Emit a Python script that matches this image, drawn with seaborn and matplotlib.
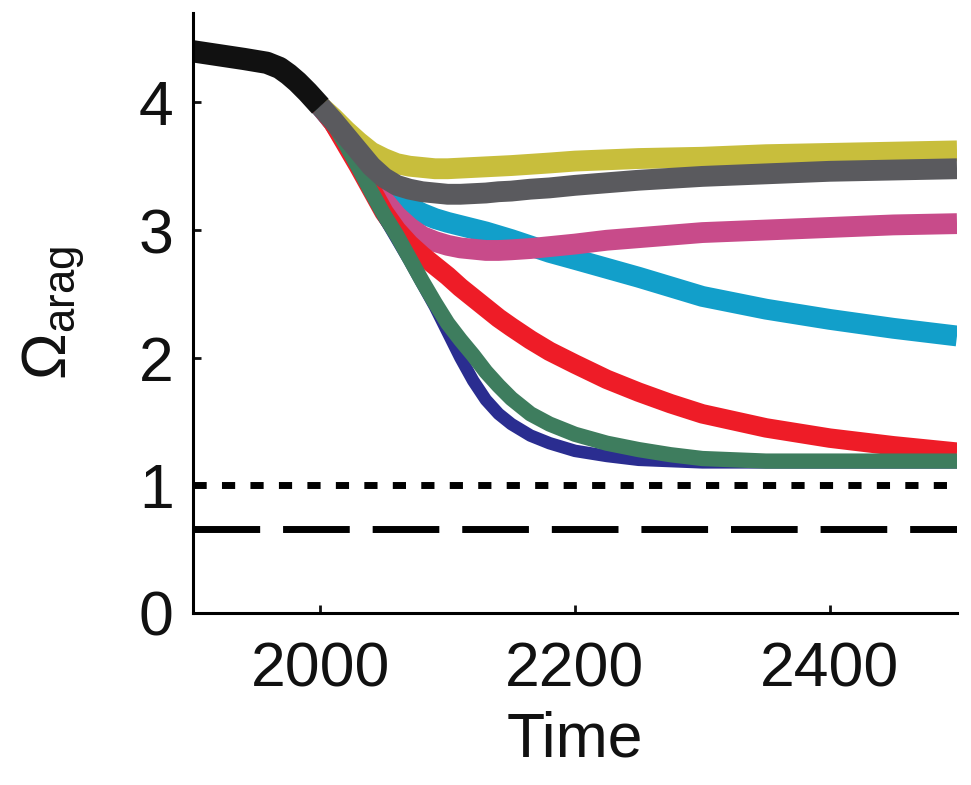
import numpy as np
import pandas as pd
import matplotlib
matplotlib.use("Agg")
import matplotlib.pyplot as plt
import seaborn as sns

# ---------------- data ----------------
years_hist = [1900, 1920, 1940, 1958, 1968, 1975, 1982, 1990, 2000]
omega_hist = [4.40, 4.37, 4.34, 4.31, 4.27, 4.22, 4.16, 4.08, 3.97]

years_future = [2000, 2010, 2020, 2030, 2040, 2050, 2060, 2070, 2080, 2090,
                2100, 2110, 2120, 2130, 2140, 2150, 2165, 2180, 2200, 2225,
                2250, 2275, 2300, 2350, 2400, 2450, 2500]

omega_yellow = [3.97, 3.88, 3.78, 3.69, 3.61, 3.56, 3.52, 3.50, 3.49, 3.48,
                3.48, 3.485, 3.49, 3.495, 3.50, 3.505, 3.515, 3.525, 3.54, 3.55,
                3.56, 3.565, 3.57, 3.59, 3.60, 3.61, 3.62]
omega_grey = [3.97, 3.86, 3.74, 3.62, 3.50, 3.41, 3.35, 3.32, 3.30, 3.29,
              3.28, 3.28, 3.285, 3.29, 3.30, 3.305, 3.32, 3.33, 3.35, 3.37,
              3.39, 3.405, 3.42, 3.44, 3.46, 3.47, 3.48]
omega_cyan = [3.97, 3.85, 3.71, 3.56, 3.43, 3.33, 3.25, 3.18, 3.13, 3.09,
              3.06, 3.035, 3.01, 2.985, 2.955, 2.925, 2.875, 2.825, 2.77, 2.70,
              2.63, 2.555, 2.48, 2.38, 2.30, 2.23, 2.17]
omega_magenta = [3.97, 3.85, 3.70, 3.53, 3.37, 3.23, 3.11, 3.02, 2.95, 2.91,
                 2.88, 2.86, 2.85, 2.84, 2.84, 2.845, 2.855, 2.87, 2.89, 2.92,
                 2.94, 2.96, 2.98, 3.00, 3.02, 3.04, 3.05]
omega_red = [3.97, 3.84, 3.67, 3.50, 3.32, 3.14, 3.00, 2.89, 2.80, 2.72,
             2.64, 2.55, 2.47, 2.39, 2.31, 2.24, 2.14, 2.05, 1.95, 1.83,
             1.73, 1.64, 1.56, 1.45, 1.37, 1.31, 1.26]
omega_green = [3.97, 3.84, 3.67, 3.49, 3.30, 3.12, 2.96, 2.78, 2.60, 2.43,
               2.27, 2.14, 2.02, 1.89, 1.78, 1.68, 1.56, 1.48, 1.40, 1.33,
               1.28, 1.24, 1.21, 1.19, 1.19, 1.19, 1.19]
omega_blue = [3.97, 3.84, 3.67, 3.48, 3.29, 3.10, 2.93, 2.76, 2.58, 2.40,
              2.20, 2.00, 1.82, 1.67, 1.56, 1.48, 1.39, 1.33, 1.27, 1.23,
              1.20, 1.19, 1.18, 1.18, 1.18, 1.18, 1.18]

threshold_years = [1900, 2500]
threshold_dotted = 1.0
threshold_dashed = 0.66

x_ticks = [2000, 2200, 2400]
y_ticks = [0, 1, 2, 3, 4]

# ---------------- style ----------------
sns.set_style("white")
plt.rcParams["font.family"] = ["Liberation Sans", "DejaVu Sans"]
plt.rcParams["mathtext.fontset"] = "custom"
plt.rcParams["mathtext.rm"] = "Liberation Sans"
plt.rcParams["mathtext.it"] = "Liberation Sans:italic"
for key in ["text.color", "axes.labelcolor", "xtick.color", "ytick.color"]:
    plt.rcParams[key] = "#111111"

fig = plt.figure(figsize=(9.71, 7.85), dpi=100)
ax = fig.add_axes([193 / 971, 1 - 613 / 785, (957 - 193) / 971, (613 - 13) / 785])

series = [
    (omega_yellow, "#c8be3c", 15),
    (omega_cyan, "#129fca", 15),
    (omega_magenta, "#c84b8a", 15),
    (omega_red, "#ee1c27", 14),
    (omega_blue, "#2a2d90", 9),
    (omega_green, "#3e7d5e", 11),
    (omega_grey, "#5a5a5e", 15),
]
for vals, col, lw in series:
    sns.lineplot(x=years_future, y=vals, color=col, lw=lw, ax=ax,
                 solid_capstyle="butt", solid_joinstyle="round", sort=False)

sns.lineplot(x=years_hist, y=omega_hist, color="#111111", lw=16, ax=ax,
             solid_capstyle="butt", solid_joinstyle="round", sort=False)

sns.lineplot(x=threshold_years, y=[threshold_dotted] * 2, color="black", lw=5,
             ax=ax)
ax.lines[-1].set_dashes((1.9, 2.2))
ax.lines[-1].set_dash_capstyle("butt")
sns.lineplot(x=threshold_years, y=[threshold_dashed] * 2, color="black", lw=5,
             ax=ax)
ax.lines[-1].set_dashes((9.6, 3.3))
ax.lines[-1].set_dash_capstyle("butt")

ax.set_xlim(1900, 2500)
ax.set_ylim(0, 4.7)
ax.set_xticks(x_ticks)
ax.set_yticks(y_ticks)
ax.set_xticklabels([str(t) for t in x_ticks])
ax.set_yticklabels([str(t) for t in y_ticks])

for side in ["top", "right"]:
    ax.spines[side].set_visible(False)
for side in ["left", "bottom"]:
    ax.spines[side].set_linewidth(2.2)
    ax.spines[side].set_color("black")

ax.tick_params(axis="both", direction="in", length=6, width=2, labelsize=45,
               left=True, bottom=True)
ax.tick_params(axis="x", pad=20)
ax.tick_params(axis="y", pad=14)

ax.set_xlabel("Time", fontsize=45, labelpad=8)
ax.set_ylabel(r"$\Omega_{\mathrm{arag}}$", fontsize=45)
ax.yaxis.set_label_coords(-0.139, 0.5)

fig.savefig("out.png", dpi=100, facecolor="white")
